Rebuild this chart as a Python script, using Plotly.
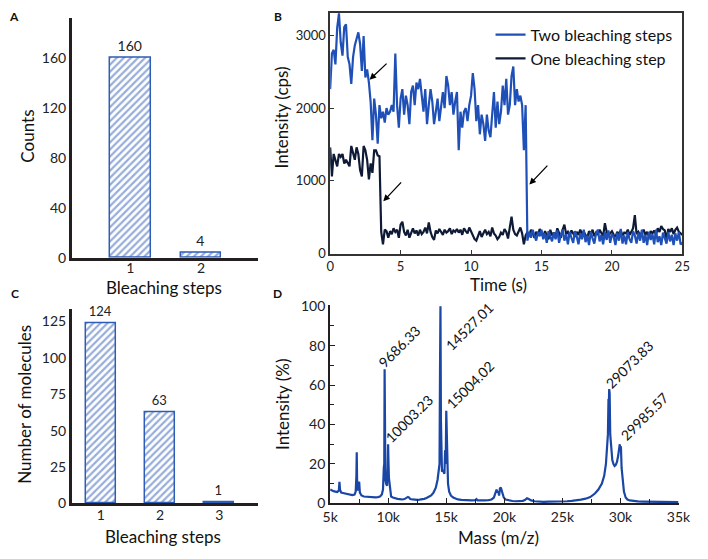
import plotly.graph_objects as go

W, H = 708, 559
FONT = "Lato, 'Open Sans', sans-serif"
INK = "#231f20"
BAR_BLUE = "#2f5cb5"
LINE_BLUE = "#1f50b8"
LINE_DARK = "#0e1a36"
SPEC_BLUE = "#1a46a6"

# ---------------- Panel A ----------------
a_steps = [1, 2]
a_counts = [160, 4]
a_yticks = [0, 40, 80, 120, 160]

# ---------------- Panel C ----------------
c_steps = [1, 2, 3]
c_molecules = [124, 63, 1]
c_yticks = [0, 25, 50, 75, 100, 125]

# ---------------- Panel B ----------------
# intensity (cps) sampled every 0.125 s, one row per second (8 samples), plus t=25
two_steps_rows = [
    [2260, 2750, 2800, 2600, 3100, 3300, 2900, 2720],
    [3110, 3150, 2700, 2600, 2330, 2700, 2860, 2950],
    [3040, 2880, 2510, 2990, 2420, 2530, 2350, 2080],
    [1560, 2130, 1910, 1510, 2040, 1860, 1950, 1800],
    [2000, 1910, 1950, 2040, 1950, 2750, 2040, 1730],
    [2130, 2260, 1910, 2170, 2040, 1780, 2220, 2310],
    [2040, 2350, 2260, 2400, 2170, 1950, 2260, 1780],
    [2040, 2260, 2090, 1780, 1950, 2130, 1820, 2040],
    [2220, 2000, 2440, 2310, 2040, 2220, 1910, 2090],
    [2220, 1420, 1950, 1730, 1950, 2000, 1820, 2040],
    [2170, 2480, 2260, 1820, 2040, 1640, 1910, 1780],
    [1550, 1910, 1690, 1600, 1860, 2220, 1730, 2090],
    [1780, 1950, 2310, 2040, 2400, 1910, 2040, 2440],
    [2570, 2040, 2260, 2090, 2170, 2040, 1420, 2040],
    [180, 300, 220, 330, 250, 180, 300, 240],
    [330, 200, 280, 150, 310, 230, 170, 290],
    [200, 320, 150, 260, 330, 180, 270, 130],
    [300, 220, 150, 310, 240, 130, 280, 200],
    [330, 160, 250, 120, 300, 210, 140, 280],
    [330, 170, 260, 130, 300, 190, 320, 150],
    [270, 230, 120, 290, 180, 340, 140, 250],
    [130, 300, 200, 150, 310, 250, 140, 290],
    [180, 330, 150, 260, 120, 300, 190, 270],
    [130, 330, 160, 240, 120, 290, 200, 140],
    [300, 170, 260, 120, 280, 180, 300, 130],
    [150],
]
one_step_rows = [
    [1460, 1060, 1370, 1290, 1200, 1370, 1330, 1370],
    [1240, 1290, 1240, 1200, 1480, 1370, 1290, 1460],
    [1370, 1150, 1060, 1480, 1420, 1290, 1020, 1240],
    [1110, 1420, 1420, 1350, 1340, 300, 130, 330],
    [310, 220, 310, 270, 350, 300, 330, 220],
    [400, 440, 300, 250, 330, 220, 300, 350],
    [280, 320, 250, 330, 270, 300, 360, 280],
    [430, 300, 230, 190, 320, 280, 340, 300],
    [260, 330, 290, 310, 350, 270, 320, 300],
    [340, 290, 330, 260, 350, 310, 280, 360],
    [300, 250, 200, 180, 260, 310, 230, 290],
    [330, 270, 300, 240, 360, 280, 250, 200],
    [230, 290, 260, 340, 300, 210, 380, 510],
    [330, 270, 250, 300, 360, 280, 130, 250],
    [300, 240, 330, 280, 220, 300, 260, 340],
    [280, 230, 310, 260, 200, 330, 250, 290],
    [240, 350, 280, 220, 330, 400, 270, 300],
    [250, 320, 280, 230, 300, 260, 330, 280],
    [300, 250, 220, 310, 270, 330, 240, 290],
    [260, 330, 290, 240, 420, 300, 250, 280],
    [310, 260, 230, 300, 270, 320, 250, 290],
    [280, 330, 260, 300, 350, 530, 270, 300],
    [250, 290, 330, 260, 300, 240, 310, 280],
    [320, 260, 350, 300, 380, 340, 320, 200],
    [340, 300, 350, 270, 330, 360, 300, 280],
    [260],
]
two_steps = [v for row in two_steps_rows for v in row]
one_step = [v for row in one_step_rows for v in row]
time_s = [i * 0.125 for i in range(len(two_steps))]
b_xticks = [0, 5, 10, 15, 20, 25]
b_yticks = [0, 1000, 2000, 3000]

# ---------------- Panel D ----------------
mass_da = [
    5000, 5150, 5300, 5450, 5600, 5750, 5800, 5850, 5950, 6100, 6300, 6500, 6700, 6900,
    7100, 7200, 7260, 7290, 7320, 7380, 7450, 7500, 7560, 7700, 7900, 8100, 8300, 8500,
    8700, 8900, 9100, 9300, 9450, 9550, 9620, 9660, 9690, 9720, 9760, 9820, 9900, 9960,
    9990, 10020, 10060, 10100, 10160, 10250, 10400, 10600, 10800, 11000, 11200, 11400,
    11600, 11700, 11800, 11900, 12100, 12300, 12500, 12700, 12900, 13100, 13300, 13500,
    13700, 13900, 14100, 14250, 14350, 14420, 14460, 14500, 14540, 14580, 14630, 14700,
    14780, 14840, 14900, 14950, 15000, 15040, 15080, 15150, 15250, 15400, 15600, 15800,
    16000, 16300, 16600, 16900, 17200, 17500, 17600, 17700, 18000, 18300, 18600, 18900,
    19100, 19250, 19330, 19400, 19480, 19550, 19620, 19700, 19780, 19850, 19950, 20100,
    20400, 20700, 21000, 21300, 21600, 21800, 21950, 22100, 22300, 22600, 23000, 23400,
    23800, 24200, 24600, 25000, 25400, 25800, 26200, 26600, 27000, 27400, 27800, 28100,
    28400, 28600, 28750, 28850, 28920, 28970, 29000, 29030, 29070, 29120, 29200, 29300,
    29400, 29500, 29600, 29700, 29800, 29880, 29940, 29990, 30040, 30100, 30200, 30300,
    30450, 30600, 30800, 31100, 31500, 32000, 32500, 33000, 33500, 34000, 34500, 35000,
]
intensity_pct = [
    7.0, 6.5, 6.2, 6.0, 5.8, 6.5, 11.0, 7.0, 5.5, 5.3, 5.0, 4.8, 4.5, 4.2,
    4.5, 6.0, 14.0, 26.0, 12.0, 6.5, 10.5, 11.0, 5.5, 4.0, 3.5, 3.4, 3.2, 3.0,
    3.0, 3.1, 3.2, 3.5, 4.5, 7.0, 18.0, 20.0, 68.0, 30.0, 12.0, 10.0, 9.0, 18.0,
    30.0, 22.0, 13.0, 11.0, 5.0, 3.5, 3.0, 2.5, 2.3, 2.2, 2.0, 2.2,
    2.8, 3.3, 3.0, 2.2, 2.0, 1.8, 1.8, 1.9, 2.0, 2.3, 2.7, 3.2,
    4.0, 5.5, 8.0, 12.0, 17.0, 20.0, 67.0, 100.0, 42.0, 20.0, 16.0, 17.0,
    15.0, 15.0, 27.0, 20.0, 47.0, 30.0, 15.0, 10.0, 6.0, 4.0, 3.0, 2.5,
    2.0, 1.8, 1.6, 1.5, 1.5, 1.6, 2.2, 1.5, 1.4, 1.5, 1.6, 2.0,
    3.0, 5.0, 7.0, 5.5, 6.0, 4.0, 7.5, 8.0, 6.0, 4.0, 3.0, 2.0,
    1.4, 1.2, 1.1, 1.2, 1.3, 1.8, 2.6, 2.2, 1.5, 1.1, 0.9, 0.8,
    0.9, 0.9, 1.0, 1.0, 1.1, 1.3, 1.5, 1.9, 2.4, 3.2, 5.0, 7.0,
    10.0, 14.0, 20.0, 28.0, 35.0, 53.0, 50.0, 58.0, 56.0, 35.0, 28.0, 22.0,
    20.0, 19.0, 19.5, 21.0, 24.0, 28.0, 30.0, 27.0, 29.0, 18.0, 10.0, 6.0,
    3.0, 2.0, 1.5, 1.2, 1.0, 0.9, 0.8, 0.8, 0.7, 0.7, 0.6, 0.6,
]
d_xticks = [5000, 10000, 15000, 20000, 25000, 30000, 35000]
d_xticktext = ["5k", "10k", "15k", "20k", "25k", "30k", "35k"]
d_yticks = [0, 20, 40, 60, 80, 100]
peak_labels = ["9686.33", "10003.23", "14527.01", "15004.02", "29073.83", "29985.57"]


def px(x):
    return x / W


def py(y):
    return 1 - y / H


fig = go.Figure()

hatch = dict(shape="/", fgcolor=BAR_BLUE, bgcolor="white", size=5, solidity=0.45)

fig.add_trace(go.Bar(
    x=a_steps, y=a_counts, width=0.575, xaxis="x", yaxis="y",
    marker=dict(color="white", pattern=hatch, line=dict(color=BAR_BLUE, width=1.5)),
    text=[str(v) for v in a_counts], textposition="outside", cliponaxis=False,
    textfont=dict(size=14, color="#222", family=FONT), showlegend=False,
))
fig.add_trace(go.Bar(
    x=c_steps, y=c_molecules, width=0.51, xaxis="x3", yaxis="y3",
    marker=dict(color="white", pattern=hatch, line=dict(color=BAR_BLUE, width=1.5)),
    text=[str(v) for v in c_molecules], textposition="outside", cliponaxis=False,
    textfont=dict(size=13, color="#222", family=FONT), showlegend=False,
))
fig.add_trace(go.Scatter(
    x=time_s, y=one_step, mode="lines", name="One bleaching step",
    line=dict(color=LINE_DARK, width=2.2), xaxis="x2", yaxis="y2",
))
fig.add_trace(go.Scatter(
    x=time_s, y=two_steps, mode="lines", name="Two bleaching steps",
    line=dict(color=LINE_BLUE, width=2.2), xaxis="x2", yaxis="y2",
))
fig.add_trace(go.Scatter(
    x=mass_da, y=intensity_pct, mode="lines", line=dict(color=SPEC_BLUE, width=2.2),
    xaxis="x4", yaxis="y4", showlegend=False,
))

bar_axis = dict(showline=True, linewidth=3, linecolor=INK, ticks="", showgrid=False,
                zeroline=False, tickfont=dict(size=14, color="#222", family=FONT))
box_axis = dict(showline=True, linewidth=1.5, linecolor="#333", mirror=True, ticks="inside",
                ticklen=4, tickcolor="#333", showgrid=False, zeroline=False,
                tickfont=dict(size=13, color="#222", family=FONT))
spec_axis = dict(showline=True, linewidth=2, linecolor=INK, ticks="inside", ticklen=5,
                 tickcolor=INK, showgrid=False, zeroline=False,
                 tickfont=dict(size=14, color="#222", family=FONT))

annotations = []


def text_ann(txt, x, y, size, angle=0, bold=False):
    annotations.append(dict(
        text=f"<b>{txt}</b>" if bold else txt, xref="paper", yref="paper",
        x=px(x), y=py(y), xanchor="center", yanchor="middle", showarrow=False,
        textangle=angle, font=dict(size=size, color="#111", family=FONT)))


text_ann("A", 6, 9, 12, bold=True)
text_ann("B", 278, 9, 12, bold=True)
text_ann("C", 7, 294, 12, bold=True)
text_ann("D", 278, 294, 12, bold=True)
text_ann("Counts", 20, 132, 17, angle=-90)
text_ann("Bleaching steps", 161, 288, 17)
text_ann("Intensity (cps)", 282, 113, 17, angle=-90)
text_ann("Time (s)", 505, 285, 17)
text_ann("Number of molecules", 17, 408, 17, angle=-90)
text_ann("Bleaching steps", 160, 544, 17)
text_ann("Intensity (%)", 283, 408, 17, angle=-90)
text_ann("Mass (m/z)", 505, 545, 17)

# arrows in panel B (tip, tail) in data units
arrow_tips = [(2.8, 2390), (3.77, 720), (14.14, 950)]
arrow_tails = [(4.11, 2630), (5.14, 1000), (15.52, 1230)]
for (tx, ty), (sx, sy) in zip(arrow_tips, arrow_tails):
    annotations.append(dict(
        x=tx, y=ty, ax=sx, ay=sy, xref="x2", yref="y2", axref="x2", ayref="y2",
        text="", showarrow=True, arrowhead=2, arrowsize=1, arrowwidth=1.3,
        arrowcolor="black"))

# peak labels in panel D (text centres, data units)
label_pos = [(10933, 79.8), (11810, 43), (16950, 89.9), (17075, 60.3), (30738, 70.7), (32033, 44.3)]
for txt, (lx, ly) in zip(peak_labels, label_pos):
    annotations.append(dict(
        text=txt, x=lx, y=ly, xref="x4", yref="y4", showarrow=False, textangle=-45,
        xanchor="center", yanchor="middle", font=dict(size=14, color="#111", family=FONT)))

fig.update_layout(
    width=W, height=H, margin=dict(l=0, r=0, t=0, b=0, pad=0),
    paper_bgcolor="white", plot_bgcolor="white", font=dict(family=FONT, color="#222"),
    bargap=0,
    xaxis=dict(domain=[px(66), px(258)], anchor="y", range=[0.178, 2.808],
               tickvals=a_steps, ticklabelstandoff=-4, **bar_axis),
    yaxis=dict(domain=[py(257), py(10)], anchor="x", range=[0, 192],
               tickvals=a_yticks, **bar_axis),
    xaxis2=dict(domain=[px(332), px(695)], anchor="y2", range=[0, 25],
                tickvals=b_xticks, **box_axis),
    yaxis2=dict(domain=[py(253), py(5)], anchor="x2", range=[0, 3307],
                tickvals=b_yticks, **box_axis),
    xaxis3=dict(domain=[px(66), px(258)], anchor="y3", range=[0.516, 3.66],
                tickvals=c_steps, ticklabelstandoff=-3, **bar_axis),
    yaxis3=dict(domain=[py(510), py(310)], anchor="x3", range=[0, 133.5],
                tickvals=c_yticks, **bar_axis),
    xaxis4=dict(domain=[px(332), px(691)], anchor="y4", range=[5000, 35000],
                tickvals=d_xticks, ticktext=d_xticktext,
                minor=dict(dtick=2500, tick0=5000, ticks="inside", ticklen=4, tickcolor=INK),
                **spec_axis),
    yaxis4=dict(domain=[py(510), py(306)], anchor="x4", range=[0, 100.5],
                tickvals=d_yticks,
                minor=dict(dtick=10, tick0=0, ticks="inside", ticklen=4, tickcolor=INK),
                **spec_axis),
    legend=dict(x=px(690), xanchor="right", y=py(10), yanchor="top",
                traceorder="reversed", bgcolor="rgba(0,0,0,0)",
                font=dict(size=16, color="#111", family=FONT), tracegroupgap=0),
    annotations=annotations,
)

fig.write_html(
    "out.html",
    config={"displayModeBar": False},
    post_script="document.body.style.margin='0';document.body.style.padding='0';"
                "document.documentElement.style.overflow='hidden';",
)
